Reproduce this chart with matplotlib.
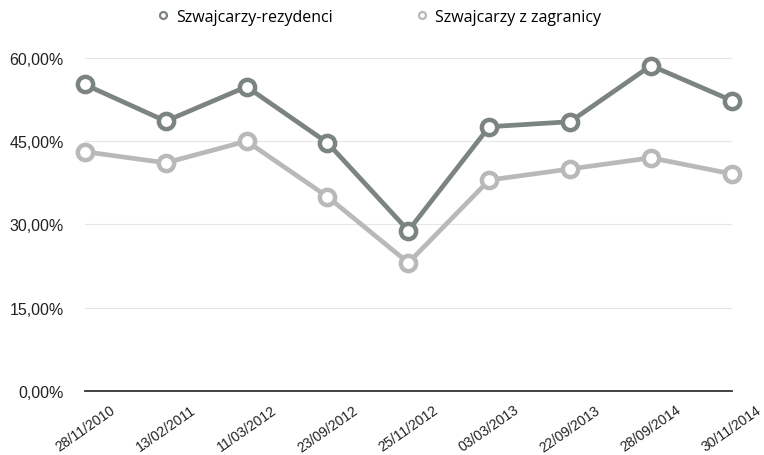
import matplotlib.pyplot as plt
from matplotlib.ticker import FuncFormatter
from matplotlib.lines import Line2D

plt.rcParams['font.family'] = ['Liberation Sans', 'DejaVu Sans']

dates = ['28/11/2010', '13/02/2011', '11/03/2012', '23/09/2012', '25/11/2012',
         '03/03/2013', '22/09/2013', '28/09/2014', '30/11/2014']
rezydenci = [55.2, 48.6, 54.8, 44.7, 28.9, 47.6, 48.5, 58.6, 52.3]
zagranica = [43.1, 41.1, 45.0, 35.0, 23.1, 38.0, 40.0, 42.0, 39.1]

dark = '#7b8480'
light = '#b9b9b9'

fig = plt.figure(figsize=(7.64, 4.56), dpi=100)
ax = fig.add_axes([0.111, 0.140, 0.847, 0.731])

x = range(len(dates))
for vals, col, lab in [(rezydenci, dark, 'Szwajcarzy-rezydenci'),
                       (zagranica, light, 'Szwajcarzy z zagranicy')]:
    ax.plot(x, vals, color=col, lw=3.4, marker='o', ms=11, mfc='white',
            mec=col, mew=3.2, clip_on=False, zorder=3, label=lab)

ax.set_xlim(0, len(dates) - 1)
ax.set_ylim(0, 60)
ax.set_yticks([0, 15, 30, 45, 60])
ax.yaxis.set_major_formatter(FuncFormatter(lambda v, p: f'{v:.2f}%'.replace('.', ',')))
ax.set_xticks(list(x))
ax.set_xticklabels(dates, rotation=35, ha='center', va='top')

ax.grid(axis='y', color='#e6e6e6', lw=0.8)
ax.set_axisbelow(True)
for s in ['top', 'right', 'left']:
    ax.spines[s].set_visible(False)
ax.spines['bottom'].set_color('#333333')
ax.spines['bottom'].set_linewidth(1.3)
ax.tick_params(length=0, colors='#222222')
ax.tick_params(axis='y', pad=15, labelsize=11.5)
ax.tick_params(axis='x', pad=8, labelsize=10.1)

l = ['Szwajcarzy-rezydenci', 'Szwajcarzy z zagranicy']
hs = [Line2D([], [], color=c, marker='o', ms=5, mfc='white', mec=c, mew=1.6, lw=0)
      for c in (dark, light)]
fig.legend(hs, l, loc='upper center', bbox_to_anchor=(0.496, 1.01), ncol=2,
           frameon=False, handlelength=0.8, handletextpad=0.4, columnspacing=5.2,
           prop={'family': 'Open Sans', 'size': 11.5})

plt.savefig('out.png', dpi=100)
